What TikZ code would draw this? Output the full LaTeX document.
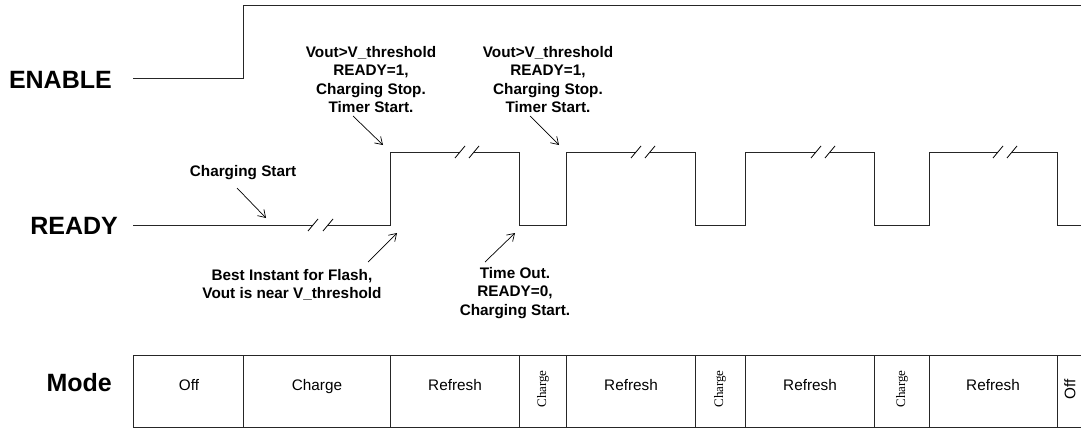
\documentclass[tikz,border=0pt]{standalone}
\usepackage{fontspec}
\setmainfont{Liberation Sans}
\newfontfamily\serifcell{Liberation Serif}
\usetikzlibrary{arrows.meta, positioning}

\begin{document}
\begin{tikzpicture}[
    x=1pt,
    y=-1pt,
    >={Straight Barb[length=7pt, width=9pt]},
    wave/.style={line width=1pt, black!85},
    brk/.style={line width=0.8pt},
    signame/.style={font=\fontsize{25}{30}\selectfont\bfseries, inner sep=0pt},
    note/.style={font=\fontsize{15.3}{18.5}\selectfont\bfseries, align=center, inner sep=0pt},
    pointer/.style={->, line width=0.7pt},
    cell/.style={font=\fontsize{15.3}{18}\selectfont, inner sep=0pt, anchor=base},
    thincell/.style={font=\serifcell\fontsize{13}{15}\selectfont, rotate=90, inner sep=0pt},
]
    \useasboundingbox (0,0) rectangle (1081,428);

    % signal names
    \node[signame, anchor=east] (enable) at (112,80)  {ENABLE};
    \node[signame, anchor=east] (ready)  at (118,226) {READY};
    \node[signame, anchor=east] (mode)   at (112,383) {Mode};

    % ENABLE
    \draw[wave] (133,78) -- (243,78) -- (243,6) -- (1081,6);

    % READY, broken where time is skipped
    \draw[wave] (133,225) -- (313,225);
    \draw[wave] (328,225) -- (390,225) -- (390,152) -- (460,152);
    \draw[wave] (474,152) -- (519,152) -- (519,225) -- (566,225) -- (566,152) -- (636,152);
    \draw[wave] (650,152) -- (695,152) -- (695,225) -- (745,225) -- (745,152) -- (816,152);
    \draw[wave] (830,152) -- (874,152) -- (874,225) -- (929,225) -- (929,152) -- (998,152);
    \draw[wave] (1012,152) -- (1057,152) -- (1057,225) -- (1081,225);
    \foreach \bx/\by in {313/225, 328/225, 460/152, 474/152, 636/152,
                         650/152, 816/152, 830/152, 998/152, 1012/152}
        \draw[brk] (\bx-5,\by+6) -- (\bx+5,\by-6);

    % notes
    \node[note, anchor=north] (chgA) at (243,165) {Charging Start};
    \node[note, anchor=north] (thrA) at (371,46)  {Vout>V\_threshold\\READY=1,\\Charging Stop.\\Timer Start.};
    \node[note, anchor=north] (thrB) at (548,46)  {Vout>V\_threshold\\READY=1,\\Charging Stop.\\Timer Start.};
    \node[note, anchor=north] (best) at (292,269) {Best Instant for Flash,\\Vout is near V\_threshold};
    \node[note, anchor=north] (tout) at (515,267) {Time Out.\\READY=0,\\Charging Start.};

    \coordinate (chgAtail) at (237,188);  \coordinate (chgAtip) at (266,218);
    \coordinate (thrAtail) at (353,116);  \coordinate (thrAtip) at (383,145);
    \coordinate (thrBtail) at (530,116);  \coordinate (thrBtip) at (559,145);
    \coordinate (besttail) at (368,262);  \coordinate (besttip) at (397,233);
    \coordinate (touttail) at (485,262);  \coordinate (touttip) at (515,233);

    \path
        (chgAtail) edge [pointer] (chgAtip)
        (thrAtail) edge [pointer] (thrAtip)
        (thrBtail) edge [pointer] (thrBtip)
        (besttail) edge [pointer] (besttip)
        (touttail) edge [pointer] (touttip)
    ;

    % mode bar
    \draw[wave] (1081,355) -- (133,355) -- (133,427) -- (1081,427);
    \foreach \dx in {243, 390, 519, 566, 695, 745, 874, 929, 1057}
        \draw[wave] (\dx,355) -- (\dx,427);

    \node[cell]     (off1) at (189,390)  {Off};
    \node[cell]     (chg1) at (317,390)  {Charge};
    \node[cell]     (ref1) at (455,390)  {Refresh};
    \node[thincell] (chg2) at (543,389)  {Charge};
    \node[cell]     (ref2) at (631,390)  {Refresh};
    \node[thincell] (chg3) at (720,389)  {Charge};
    \node[cell]     (ref3) at (810,390)  {Refresh};
    \node[thincell] (chg4) at (902,389)  {Charge};
    \node[cell]     (ref4) at (993,390)  {Refresh};
    \node[cell, rotate=90, anchor=center] (off2) at (1070,389) {Off};
\end{tikzpicture}
\end{document}
